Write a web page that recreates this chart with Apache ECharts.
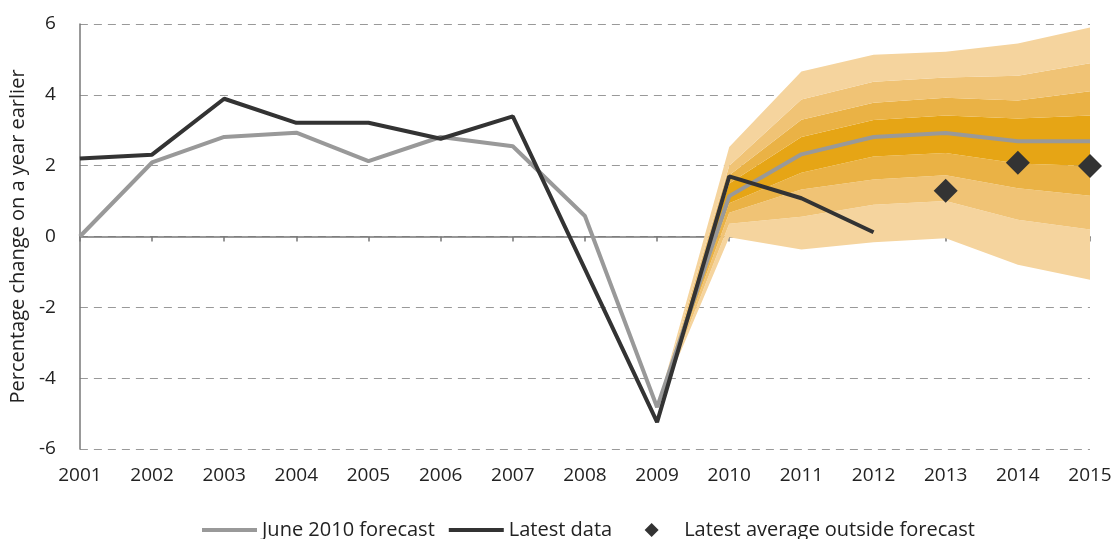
<!DOCTYPE html>
<html>
<head>
<meta charset="utf-8">
<script src="https://cdn.jsdelivr.net/npm/echarts@6/dist/echarts.min.js"></script>
<style>
	html, body { margin: 0; padding: 0; background: #fff; }
	#chart { width: 1116px; height: 539px; }
</style>
</head>
<body>
<div id="chart"></div>
<script>
// categories
var years = ['2001', '2002', '2003', '2004', '2005', '2006', '2007', '2008',
	'2009', '2010', '2011', '2012', '2013', '2014', '2015'];

// lines
var june2010Forecast = [0, 2.09, 2.81, 2.93, 2.13, 2.81, 2.55, 0.58, -4.82, 1.14, 2.32, 2.81, 2.92, 2.69, 2.69];
var latestData = [2.2, 2.31, 3.89, 3.21, 3.21, 2.76, 3.39, -0.92, -5.24, 1.7, 1.08, 0.12, null, null, null];
var outsideForecast = [null, null, null, null, null, null, null, null, null, null, null, null, 1.29, 2.08, 1.99];

// fan chart band edges, 2009..2015 (lowest to highest)
var pad = [null, null, null, null, null, null, null, null];
var fanLow90 = pad.concat([-4.82, -0.02, -0.37, -0.16, -0.05, -0.8, -1.22]);
var fanLow60 = pad.concat([-4.82, 0.36, 0.56, 0.9, 1.0, 0.47, 0.2]);
var fanLow40 = pad.concat([-4.82, 0.67, 1.33, 1.61, 1.73, 1.36, 1.15]);
var fanLow20 = pad.concat([-4.82, 0.94, 1.8, 2.26, 2.36, 2.06, 1.99]);
var fanHigh20 = pad.concat([-4.82, 1.5, 2.81, 3.29, 3.42, 3.33, 3.42]);
var fanHigh40 = pad.concat([-4.82, 1.73, 3.3, 3.78, 3.92, 3.84, 4.1]);
var fanHigh60 = pad.concat([-4.82, 2.0, 3.87, 4.37, 4.49, 4.54, 4.89]);
var fanHigh90 = pad.concat([-4.82, 2.53, 4.66, 5.13, 5.22, 5.45, 5.9]);

var yTicks = { min: -6, max: 6, interval: 2 };

var fontFamily = '"Open Sans", sans-serif';
var edges = [fanLow90, fanLow60, fanLow40, fanLow20, fanHigh20, fanHigh40, fanHigh60, fanHigh90];
var bandColors = ['#f5d49e', '#f0c375', '#eab245', '#e6a515', '#eab245', '#f0c375', '#f5d49e'];
// small diamond centred in a 55x14 legend box
var diamondIcon = 'path://M0,0M55,14M27.5,0L34.5,7L27.5,14L20.5,7Z';

var series = [{
	name: 'fanBase',
	type: 'line',
	stack: 'fan',
	stackStrategy: 'all',
	symbol: 'none',
	lineStyle: { opacity: 0 },
	data: fanLow90,
	z: 1
}];
for (var b = 0; b < bandColors.length; b++) {
	var lo = edges[b], hi = edges[b + 1];
	series.push({
		name: 'band' + b,
		type: 'line',
		stack: 'fan',
		stackStrategy: 'all',
		symbol: 'none',
		lineStyle: { opacity: 0, width: 0 },
		areaStyle: { color: bandColors[b], opacity: 1 },
		data: hi.map(function (v, i) { return v == null ? null : +(v - lo[i]).toFixed(3); }),
		z: 1
	});
}
series.push({
	name: 'June 2010 forecast',
	type: 'line',
	symbol: 'none',
	lineStyle: { color: '#999999', width: 4 },
	itemStyle: { color: '#999999' },
	data: june2010Forecast,
	z: 3
}, {
	name: 'Latest data',
	type: 'line',
	symbol: 'none',
	lineStyle: { color: '#333333', width: 4 },
	itemStyle: { color: '#333333' },
	data: latestData,
	z: 4
}, {
	name: 'Latest average outside forecast',
	type: 'scatter',
	symbol: 'diamond',
	symbolSize: 24,
	itemStyle: { color: '#333333', opacity: 1 },
	data: outsideForecast,
	z: 5
});

var chart = echarts.init(document.getElementById('chart'));
chart.setOption({
	animation: false,
	textStyle: { fontFamily: fontFamily },
	grid: { left: 78, right: 26, top: 24, bottom: 90 },
	legend: {
		top: 515,
		left: 195,
		itemWidth: 55,
		itemHeight: 14,
		itemGap: 12,
		textStyle: { fontSize: 20, color: '#222', fontFamily: fontFamily },
		data: [
			{ name: 'June 2010 forecast', itemStyle: { opacity: 0 }, lineStyle: { width: 4 } },
			{ name: 'Latest data', itemStyle: { opacity: 0 }, lineStyle: { width: 4 } },
			{ name: 'Latest average outside forecast', icon: diamondIcon }
		]
	},
	xAxis: [{
		type: 'category',
		data: years,
		boundaryGap: false,
		position: 'bottom',
		axisLine: { show: false, onZero: false },
		axisTick: { show: false },
		axisLabel: { fontSize: 19, color: '#222', margin: 17 },
		splitLine: { show: false }
	}, {
		type: 'category',
		data: years,
		boundaryGap: false,
		position: 'top',
		axisLine: { show: true, onZero: true, lineStyle: { color: '#777', width: 1.5 } },
		axisTick: { show: true, inside: true, length: 5, lineStyle: { color: '#777', width: 1.5 } },
		axisLabel: { show: false },
		splitLine: { show: false }
	}],
	yAxis: {
		type: 'value',
		min: yTicks.min,
		max: yTicks.max,
		interval: yTicks.interval,
		name: 'Percentage change on a year earlier',
		nameLocation: 'middle',
		nameGap: 44,
		nameTextStyle: { fontSize: 20, color: '#222' },
		axisLine: { show: true, lineStyle: { color: '#777', width: 1.5 } },
		axisTick: { show: false },
		axisLabel: { fontSize: 19, color: '#222', margin: 24 },
		splitLine: { show: true, lineStyle: { color: '#999', width: 1, type: [8, 6] } }
	},
	series: series
});
</script>
</body>
</html>
